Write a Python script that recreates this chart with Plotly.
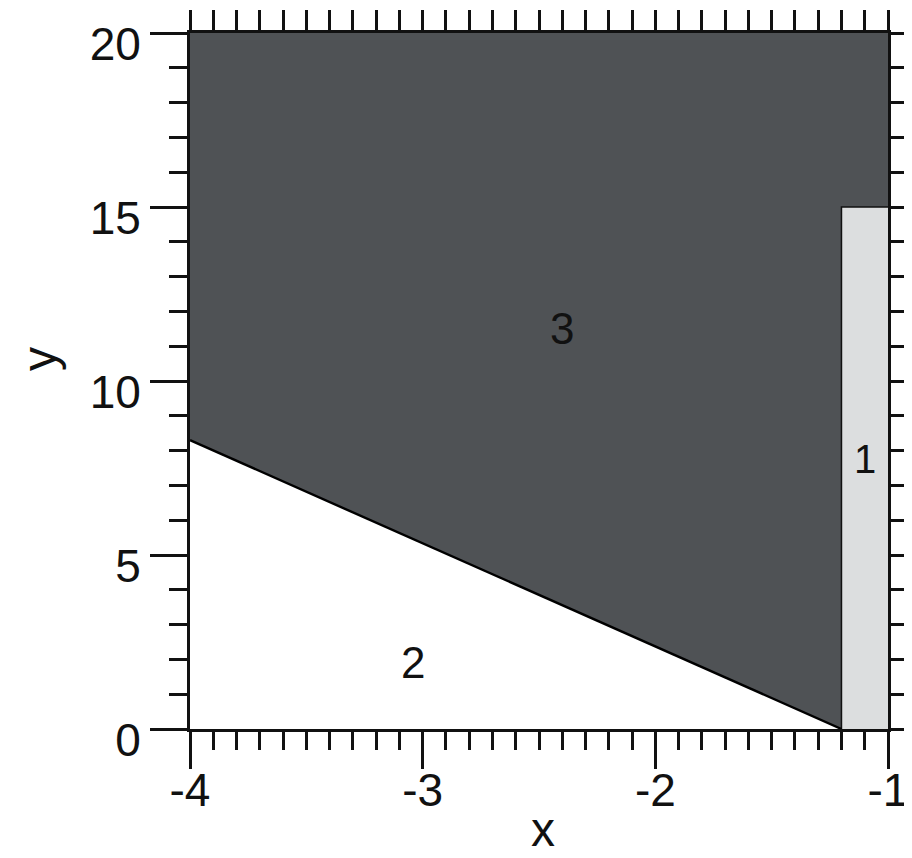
import plotly.graph_objects as go

# Region boundaries (data coordinates)
x_range = [-4, -1]
y_range = [0, 20]
x_ticks = [-4, -3, -2, -1]
x_ticktext = ["-4", "-3", "-2", "-1"]
y_ticks = [0, 5, 10, 15, 20]
y_ticktext = ["0", "5", "10", "15", "20"]
line_x = [-4.0, -1.2]          # boundary between region 2 and 3
line_y = [8.3, 0.0]
strip_x = [-1.2, -1.0]         # region 1 strip
strip_top = 15.0

region_labels = ["3", "2", "1"]
label_x = [-2.4, -3.04, -1.1]
label_y = [11.5, 1.9, 7.75]

dark = "#4f5255"
light = "#dcdedf"
font_family = "Liberation Sans, Arial, sans-serif"

fig = go.Figure()

# Region 3 (dark)
r3x = [line_x[0], line_x[1], strip_x[0], strip_x[0], strip_x[1], strip_x[1], x_range[0], line_x[0]]
r3y = [line_y[0], line_y[1], y_range[0], strip_top, strip_top, y_range[1], y_range[1], line_y[0]]
fig.add_trace(go.Scatter(x=r3x, y=r3y, fill="toself", fillcolor=dark, mode="lines",
                         line=dict(width=0, color=dark), hoverinfo="skip", showlegend=False))

# Region 1 (light strip)
r1x = [strip_x[0], strip_x[1], strip_x[1], strip_x[0], strip_x[0]]
r1y = [y_range[0], y_range[0], strip_top, strip_top, y_range[0]]
fig.add_trace(go.Scatter(x=r1x, y=r1y, fill="toself", fillcolor=light, mode="lines",
                         line=dict(width=0, color=light), hoverinfo="skip", showlegend=False))
# strip outline (left and top edges)
fig.add_trace(go.Scatter(x=[strip_x[0], strip_x[0], strip_x[1]], y=[y_range[0], strip_top, strip_top],
                         mode="lines", line=dict(width=1.5, color="#111111"),
                         hoverinfo="skip", showlegend=False))

# Boundary line between region 2 and 3
fig.add_trace(go.Scatter(x=line_x, y=line_y, mode="lines", line=dict(width=2.4, color="black"),
                         hoverinfo="skip", showlegend=False))

# invisible trace for mirror axes
fig.add_trace(go.Scatter(x=x_range, y=y_range, xaxis="x2", yaxis="y2", mode="markers",
                         marker=dict(opacity=0), hoverinfo="skip", showlegend=False))

for t, lx, ly in zip(region_labels, label_x, label_y):
    fig.add_annotation(x=lx, y=ly, text=t, showarrow=False,
                       font=dict(size=44 if t != "1" else 40, color="#111111", family=font_family))

# axis titles
fig.add_annotation(x=-2.483, xref="x", y=-0.186, yref="paper", text="x", showarrow=False,
                   xanchor="center", yanchor="bottom",
                   font=dict(size=48, color="#111111", family=font_family))
fig.add_annotation(x=-0.216, xref="paper", y=0.532, yref="paper", text="y", showarrow=False,
                   xanchor="center", yanchor="middle", textangle=-90,
                   font=dict(size=48, color="#111111", family=font_family))

tickfont = dict(size=46, color="#111111", family=font_family)

fig.update_layout(
    width=904, height=850,
    margin=dict(l=182, r=24, t=25, b=129),
    paper_bgcolor="white", plot_bgcolor="white",
    font=dict(family=font_family, color="#111111"),
    xaxis=dict(range=x_range, tickmode="array", tickvals=x_ticks, ticktext=x_ticktext,
               ticks="outside", ticklen=37, tickwidth=3, automargin=False, ticklabelstandoff=-18,
               tickcolor="#111111", showline=True, linewidth=3, linecolor="#111111",
               showgrid=False, zeroline=False, tickfont=tickfont,
               minor=dict(dtick=0.1, tick0=-4, ticks="outside", ticklen=18, tickwidth=3,
                          tickcolor="#111111", showgrid=False)),
    yaxis=dict(range=y_range, tickmode="array", tickvals=y_ticks, ticktext=y_ticktext,
               ticks="outside", ticklen=37, tickwidth=3, automargin=False,
               tickcolor="#111111", showline=True, linewidth=3, linecolor="#111111",
               showgrid=False, zeroline=False, tickfont=tickfont, ticklabelshift=11,
               minor=dict(dtick=1, tick0=0, ticks="outside", ticklen=18, tickwidth=3,
                          tickcolor="#111111", showgrid=False)),
    xaxis2=dict(range=x_range, overlaying="x", side="top", dtick=0.1, tick0=-4,
                ticks="outside", ticklen=20, tickwidth=3, tickcolor="#111111", automargin=False,
                showticklabels=False, showline=True, linewidth=3, linecolor="#111111",
                showgrid=False, zeroline=False),
    yaxis2=dict(range=y_range, overlaying="y", side="right", dtick=1, tick0=0,
                ticks="outside", ticklen=20, tickwidth=3, tickcolor="#111111", automargin=False,
                showticklabels=False, showline=True, linewidth=3, linecolor="#111111",
                showgrid=False, zeroline=False),
)

fig.write_html("out.html")
